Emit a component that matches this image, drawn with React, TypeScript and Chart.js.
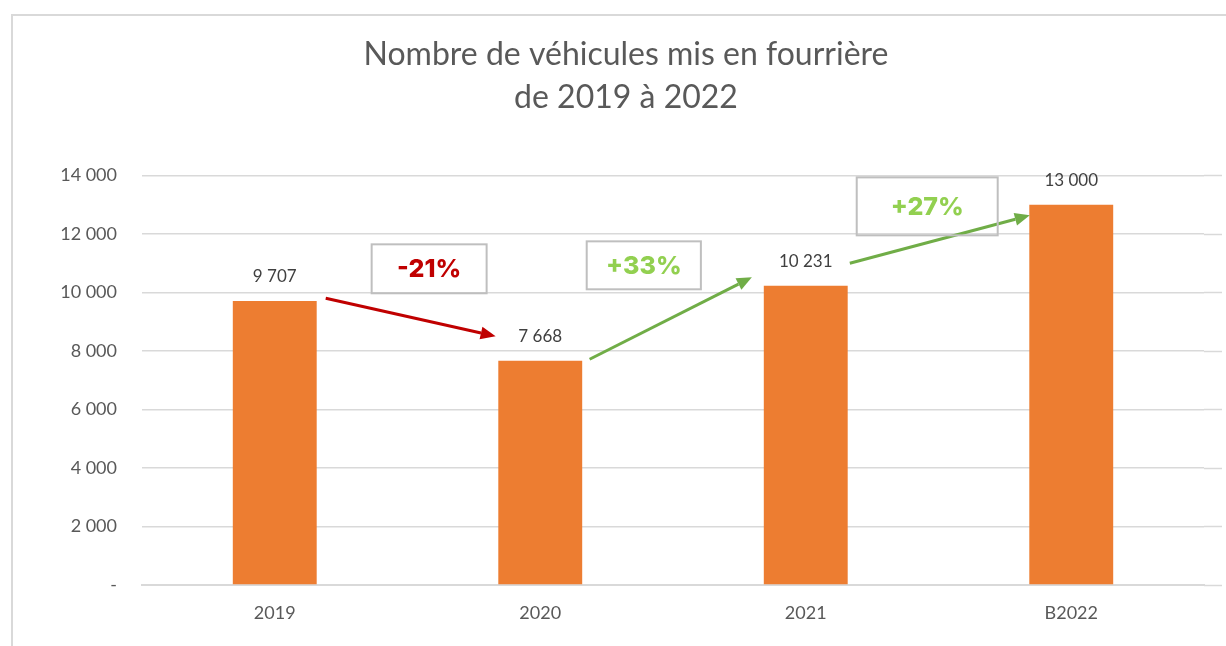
import React, { useEffect, useRef } from "react";
import { Chart, registerables } from "chart.js";

Chart.register(...registerables);

// ---- data ----
const categories = ["2019", "2020", "2021", "B2022"];
const vehicles = [9707, 7668, 10231, 13000];
const titleLines = ["Nombre de véhicules mis en fourrière", "de 2019 à 2022"];
const changeLabels = ["-21%", "+33%", "+27%"];

// ---- annotation anchors (category index, value) ----
const arrowFrom: [number, number][] = [[0.192, 9800], [1.186, 7717], [2.166, 10995]];
const arrowTo: [number, number][] = [[0.832, 8502], [1.797, 10517], [2.844, 12634]];
const boxFrom: [number, number][] = [[0.365, 11644], [1.175, 11746], [2.192, 13932]];
const boxTo: [number, number][] = [[0.798, 9971], [1.605, 10107], [2.723, 11951]];
const changeTextColors = ["#c00000", "#92d050", "#92d050"];
const arrowColors = ["#c00000", "#70ad47", "#70ad47"];

const fmt = (v: number) => {
  if (v === 0) return "-";
  return String(Math.round(v)).replace(/\B(?=(\d{3})+(?!\d))/g, " ");
};

const FONT = "Lato, 'Open Sans', sans-serif";

export default function App() {
  const ref = useRef<HTMLCanvasElement | null>(null);

  useEffect(() => {
    if (!ref.current) return;

    const decor = {
      id: "decor",
      beforeDraw(chart: any) {
        const ctx = chart.ctx;
        ctx.save();
        ctx.fillStyle = "#ffffff";
        ctx.fillRect(0, 0, chart.width, chart.height);
        ctx.strokeStyle = "#d9d9d9";
        ctx.lineWidth = 2;
        ctx.beginPath();
        ctx.moveTo(12, chart.height);
        ctx.lineTo(12, 15);
        ctx.lineTo(chart.width, 15);
        ctx.stroke();
        ctx.restore();
      },
      beforeDatasetsDraw(chart: any) {
        const ctx = chart.ctx;
        const y = chart.scales.y;
        const area = chart.chartArea;
        ctx.save();
        ctx.strokeStyle = "#d9d9d9";
        ctx.lineWidth = 1.5;
        y.ticks.forEach((t: any) => {
          const py = Math.round(y.getPixelForValue(t.value)) + 0.5;
          ctx.beginPath();
          ctx.moveTo(area.right, py);
          ctx.lineTo(1222, py);
          ctx.stroke();
        });
        ctx.restore();
      },
      afterDatasetsDraw(chart: any) {
        const ctx = chart.ctx;
        const xs = chart.scales.x;
        const ys = chart.scales.y;
        const x0 = xs.getPixelForValue(0);
        const x1 = xs.getPixelForValue(1);
        const px = (f: number) => x0 + f * (x1 - x0);
        const py = (v: number) => ys.getPixelForValue(v);

        ctx.save();
        // value labels
        ctx.fillStyle = "#404040";
        ctx.font = `17px ${FONT}`;
        ctx.textAlign = "center";
        ctx.textBaseline = "middle";
        vehicles.forEach((v, i) => {
          ctx.fillText(fmt(v), xs.getPixelForValue(i), py(v) - 24);
        });

        // arrows
        arrowFrom.forEach((from, i) => {
          const to = arrowTo[i];
          const ax = px(from[0]), ay = py(from[1]);
          const bx = px(to[0]), by = py(to[1]);
          const ang = Math.atan2(by - ay, bx - ax);
          const headLen = 15, headW = 6.5;
          const ex = bx - headLen * Math.cos(ang);
          const ey = by - headLen * Math.sin(ang);
          ctx.strokeStyle = arrowColors[i];
          ctx.fillStyle = arrowColors[i];
          ctx.lineWidth = 3;
          ctx.beginPath();
          ctx.moveTo(ax, ay);
          ctx.lineTo(ex, ey);
          ctx.stroke();
          ctx.beginPath();
          ctx.moveTo(bx, by);
          ctx.lineTo(ex + headW * Math.sin(ang), ey - headW * Math.cos(ang));
          ctx.lineTo(ex - headW * Math.sin(ang), ey + headW * Math.cos(ang));
          ctx.closePath();
          ctx.fill();
        });

        // boxes with change labels
        boxFrom.forEach((b, i) => {
          const e = boxTo[i];
          const l = px(b[0]), t = py(b[1]);
          const r = px(e[0]), bt = py(e[1]);
          ctx.strokeStyle = "#bfbfbf";
          ctx.lineWidth = 2;
          ctx.strokeRect(l, t, r - l, bt - t);
          ctx.fillStyle = changeTextColors[i];
          ctx.font = `800 25px Inter, 'Open Sans', sans-serif`;
          ctx.textAlign = "center";
          ctx.textBaseline = "middle";
          ctx.fillText(changeLabels[i], (l + r) / 2, (t + bt) / 2 + 1);
        });
        ctx.restore();
      },
    };

    const chart = new Chart(ref.current, {
      type: "bar",
      data: {
        labels: categories,
        datasets: [
          {
            data: vehicles,
            backgroundColor: "#ed7d31",
            barPercentage: 0.316,
            categoryPercentage: 1,
          },
        ],
      },
      options: {
        animation: false,
        responsive: false,
        maintainAspectRatio: false,
        layout: { padding: { top: 0, left: 48, right: 22, bottom: 0 } },
        plugins: {
          legend: { display: false },
          tooltip: { enabled: false },
          title: {
            display: true,
            text: titleLines,
            color: "#595959",
            font: { family: FONT, size: 32, weight: "normal", lineHeight: 1.35 },
            padding: { top: 33, bottom: 56 },
          },
        },
        scales: {
          x: {
            grid: { display: false },
            border: { color: "#d9d9d9", width: 2 },
            ticks: { color: "#595959", font: { family: FONT, size: 18 }, padding: 9 },
            afterFit(scale: any) {
              scale.height = 61;
            },
          },
          y: {
            min: 0,
            max: 14000,
            grid: { color: "#d9d9d9", lineWidth: 1.5, drawTicks: false },
            border: { display: false },
            ticks: {
              stepSize: 2000,
              color: "#595959",
              font: { family: FONT, size: 18 },
              padding: 25,
              callback: (v: any) => fmt(Number(v)),
            },
            afterFit(scale: any) {
              scale.width = 94;
            },
          },
        },
      },
      plugins: [decor],
    });

    return () => chart.destroy();
  }, []);

  return (
    <div style={{ position: "fixed", left: 0, top: 0, width: 1226, height: 646, background: "#fff" }}>
      <canvas ref={ref} width={1226} height={646} style={{ display: "block" }} />
    </div>
  );
}
